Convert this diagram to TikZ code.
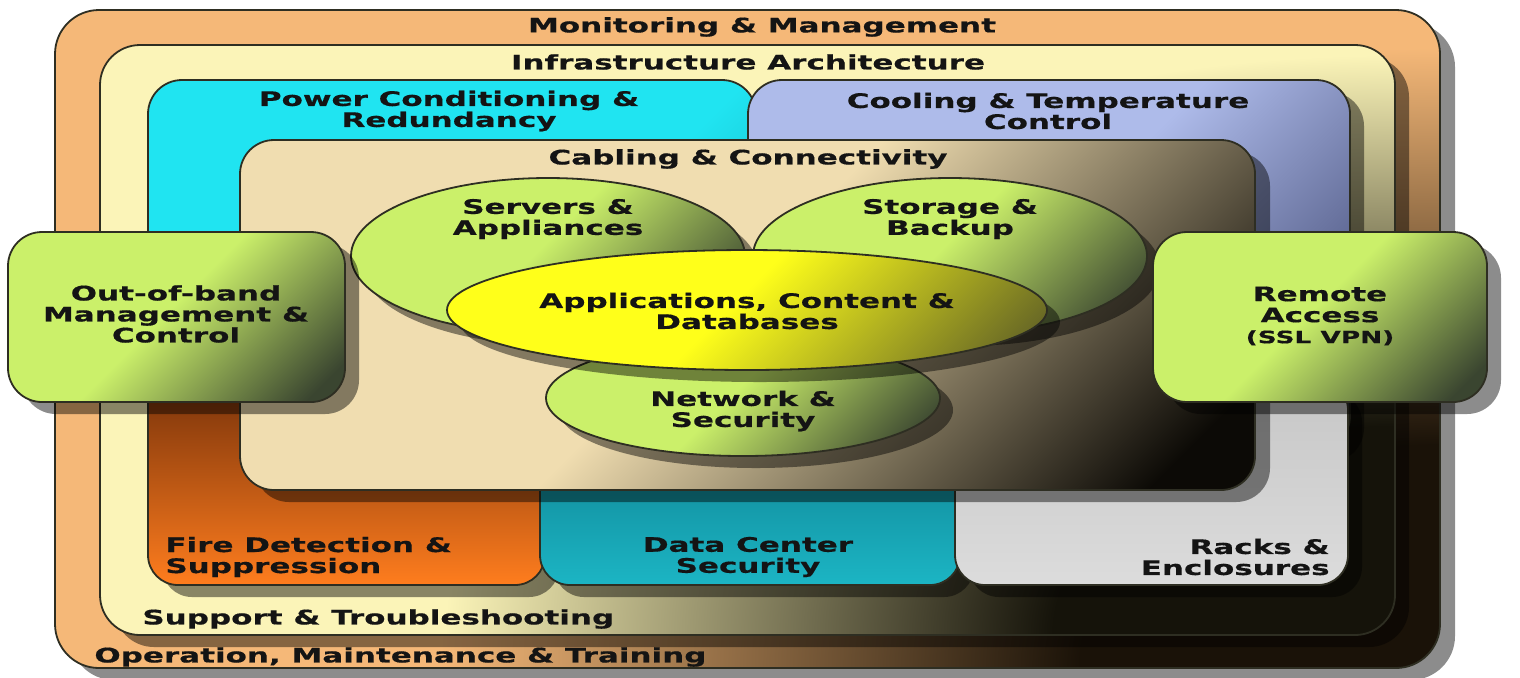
\documentclass[tikz,border=0pt]{standalone}
\usepackage{fontspec}
\usepackage{xcolor}
\newfontfamily\diagfont[FakeStretch=1.55, FakeBold=0.5]{DejaVu Sans}
\newcommand{\lblfont}{\diagfont\bfseries\fontsize{10}{10.5}\selectfont}
\definecolor{ink}{HTML}{141414}
\definecolor{rim}{HTML}{2E2E22}
\definecolor{outerL}{HTML}{F5B878}
\definecolor{outerD}{HTML}{1A1208}
\definecolor{infraL}{HTML}{FBF4B8}
\definecolor{infraD}{HTML}{15130A}
\definecolor{powerL}{HTML}{20E4F1}
\definecolor{powerD}{HTML}{0C8C99}
\definecolor{coolL}{HTML}{AEBBEA}
\definecolor{coolD}{HTML}{3E4670}
\definecolor{cablL}{HTML}{F0DDB0}
\definecolor{cablD}{HTML}{0C0A06}
\definecolor{fireD}{HTML}{6A2A08}
\definecolor{fireM}{HTML}{D9661A}
\definecolor{fireL}{HTML}{FF7D1E}
\definecolor{tealD}{HTML}{0F8595}
\definecolor{tealL}{HTML}{1CB5C4}
\definecolor{rackD}{HTML}{C6C6C6}
\definecolor{rackL}{HTML}{DCDCDC}
\definecolor{limeL}{HTML}{CBF06A}
\definecolor{limeD}{HTML}{3A4530}
\definecolor{appL}{HTML}{FFFF1A}
\definecolor{appD}{HTML}{6A6A25}
\colorlet{litecol}{white}
\colorlet{darkcol}{black}
\pgfdeclareverticalshading[litecol,darkcol]{sheen}{100bp}{color(0bp)=(darkcol); color(20bp)=(darkcol); color(52bp)=(litecol); color(100bp)=(litecol)}
\pgfdeclareverticalshading[litecol,darkcol]{sheensoft}{100bp}{color(0bp)=(darkcol); color(10bp)=(darkcol); color(42bp)=(litecol); color(100bp)=(litecol)}
\pgfdeclareradialshading[litecol,darkcol]{corner}{\pgfpoint{0bp}{0bp}}{color(0bp)=(darkcol); color(9bp)=(darkcol); color(25bp)=(litecol); color(50bp)=(litecol)}
\tikzstyle{frame} = [draw=rim, line width=0.9pt]
\tikzstyle{drop} = [fill=black, fill opacity=0.45]
\tikzstyle{lbl} = [font=\lblfont, text=ink, align=center, inner sep=0pt]
\tikzset{glow/.style 2 args={shade, shading=sheen, shading angle=45, /utils/exec={\colorlet{litecol}{#1}\colorlet{darkcol}{#2}}},
        softglow/.style 2 args={shade, shading=sheensoft, shading angle=45, /utils/exec={\colorlet{litecol}{#1}\colorlet{darkcol}{#2}}},
        cornerglow/.style 2 args={shade, shading=corner, /utils/exec={\colorlet{litecol}{#1}\colorlet{darkcol}{#2}}}}

\begin{document}
\begin{tikzpicture}[x=0.5pt, y=-0.5pt]
        \useasboundingbox (0,0) rectangle (1520,677);

        \fill[drop, rounded corners=22pt] (70,23) rectangle (1455,680);
        \begin{scope}
                \clip[rounded corners=22pt] (55,10) rectangle (1440,668);
                \fill[outerL] (55,10) rectangle (1440,668);
                \path[cornerglow={outerL}{outerD}] (1440,668) ellipse [x radius=1000, y radius=620];
        \end{scope}
        \draw[frame, rounded corners=22pt] (55,10) rectangle (1440,668);

        \fill[drop, rounded corners=20pt] (114,57) rectangle (1409,647);
        \begin{scope}
                \clip[rounded corners=20pt] (100,45) rectangle (1395,635);
                \fill[infraL] (100,45) rectangle (1395,635);
                \path[cornerglow={infraL}{infraD}] (1395,635) ellipse [x radius=950, y radius=580];
        \end{scope}
        \draw[frame, rounded corners=20pt] (100,45) rectangle (1395,635);

        \draw[frame, softglow={powerL}{powerD}, rounded corners=17pt] (148,80) rectangle (756,450);
        \fill[drop, rounded corners=17pt] (762,92) rectangle (1364,462);
        \draw[frame, glow={coolL}{coolD}, rounded corners=17pt] (748,80) rectangle (1350,450);

        \fill[drop, rounded corners=15pt] (162,372) rectangle (559,597);
        \draw[frame, top color=fireD, middle color=fireM, bottom color=fireL, rounded corners=15pt] (148,360) rectangle (545,585);
        \fill[drop, rounded corners=15pt] (554,452) rectangle (974,597);
        \draw[frame, top color=tealD, bottom color=tealL, rounded corners=15pt] (540,440) rectangle (960,585);
        \fill[drop, rounded corners=15pt] (969,392) rectangle (1362,597);
        \draw[frame, top color=rackD, bottom color=rackL, rounded corners=15pt] (955,380) rectangle (1348,585);

        \fill[drop, rounded corners=17pt] (255,152) rectangle (1270,502);
        \draw[frame, glow={cablL}{cablD}, rounded corners=17pt] (240,140) rectangle (1255,490);

        \fill[drop] (561,268) ellipse [x radius=197, y radius=78];
        \draw[frame, glow={limeL}{limeD}] (548,256) ellipse [x radius=197, y radius=78];
        \fill[drop] (963,268) ellipse [x radius=197, y radius=78];
        \draw[frame, glow={limeL}{limeD}] (950,256) ellipse [x radius=197, y radius=78];
        \fill[drop] (756,410) ellipse [x radius=197, y radius=58];
        \draw[frame, glow={limeL}{limeD}] (743,398) ellipse [x radius=197, y radius=58];
        \fill[drop] (760,322) ellipse [x radius=300, y radius=60];
        \draw[frame, glow={appL}{appD}] (747,310) ellipse [x radius=300, y radius=60];

        \fill[drop, rounded corners=17pt] (22,244) rectangle (359,414);
        \draw[frame, glow={limeL}{limeD}, rounded corners=17pt] (8,232) rectangle (345,402);
        \fill[drop, rounded corners=17pt] (1167,244) rectangle (1501,414);
        \draw[frame, glow={limeL}{limeD}, rounded corners=17pt] (1153,232) rectangle (1487,402);

        \draw (762,27) node[lbl] (mon) {Monitoring \& Management};
        \draw (748,62) node[lbl] (infra) {Infrastructure Architecture};
        \draw (449,111) node[lbl] (power) {Power Conditioning \&\\Redundancy};
        \draw (1048,111) node[lbl] (cool) {Cooling \& Temperature\\Control};
        \draw (748,159) node[lbl] (cabl) {Cabling \& Connectivity};
        \draw (548,219) node[lbl] (servers) {Servers \&\\Appliances};
        \draw (950,219) node[lbl] (storage) {Storage \&\\Backup};
        \draw (747,311) node[lbl] (apps) {Applications, Content \&\\Databases};
        \draw (743,411) node[lbl] (netw) {Network \&\\Security};
        \draw (176,314) node[lbl] (oob) {Out-of-band\\Management \&\\Control};
        \draw (1320,316) node[lbl] (remote) {Remote\\Access\\{\fontsize{8.5}{10.5}\selectfont(SSL VPN)}};
        \draw (165,557) node[lbl, anchor=west, align=left] (fire) {Fire Detection \&\\Suppression};
        \draw (748,557) node[lbl] (dcsec) {Data Center\\Security};
        \draw (1330,557) node[lbl, anchor=east, align=right] (racks) {Racks \&\\Enclosures};
        \draw (142,619) node[lbl, anchor=west] (support) {Support \& Troubleshooting};
        \draw (94,657) node[lbl, anchor=west] (oper) {Operation, Maintenance \& Training};
\end{tikzpicture}
\end{document}
